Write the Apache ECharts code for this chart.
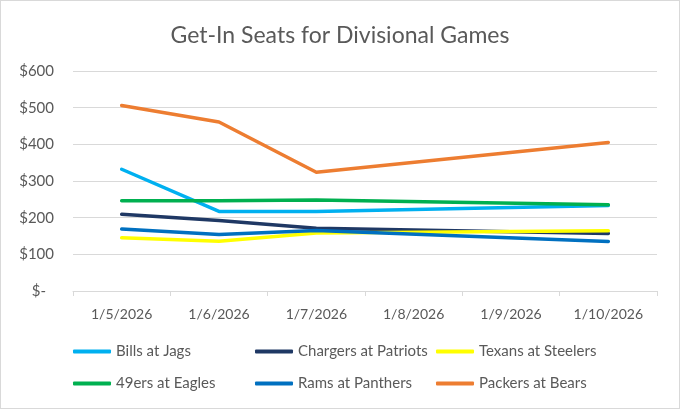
<!DOCTYPE html>
<html lang="en">
<head>
    <meta charset="UTF-8">
    <title>Get-In Seats for Divisional Games</title>
    <script type="text/javascript" src="https://cdn.jsdelivr.net/npm/echarts@6/dist/echarts.min.js"></script>
    <style>
        html, body { margin: 0; padding: 0; background: #fff; }
        #chart { width: 680px; height: 409px; box-sizing: border-box; border: 1px solid #d9d9d9; }
    </style>
</head>
<body>
    <div id="chart"></div>
    <script type="text/javascript">
        // dates on the x axis
        var dates = ['1/5/2026', '1/6/2026', '1/7/2026', '1/8/2026', '1/9/2026', '1/10/2026'];
        // get-in prices, null = no data that day (line is connected across)
        var billsJags = [332, 217, 217, null, null, 233];
        var chargersPatriots = [209, 192, 171, null, null, 157];
        var texansSteelers = [145, 136, 158, null, null, 164];
        var ninersEagles = [246, 246, 248, null, null, 235];
        var ramsPanthers = [169, 154, 165, null, null, 135];
        var packersBears = [506, 461, 324, null, null, 405];
        var yTicks = [0, 100, 200, 300, 400, 500, 600];

        var names = ['Bills at Jags', 'Chargers at Patriots', 'Texans at Steelers',
                     '49ers at Eagles', 'Rams at Panthers', 'Packers at Bears'];
        var colors = ['#00b0f0', '#1f3864', '#ffff00', '#00b050', '#0070c0', '#ed7d31'];

        var font = 'Lato, "Open Sans", sans-serif';
        var grey = '#595959';

        var myChart = echarts.init(document.getElementById('chart'));

        function line(i, data) {
            return {
                name: names[i],
                type: 'line',
                data: data,
                connectNulls: true,
                showSymbol: false,
                symbol: 'none',
                lineStyle: {width: 3.5, color: colors[i], cap: 'round', join: 'round'},
                itemStyle: {color: colors[i]}
            };
        }

        // one legend per entry so the three columns line up like the excel legend
        var legends = [];
        for (var i = 0; i < names.length; i++) {
            legends.push({
                data: [names[i]],
                left: [72, 254, 435][i % 3],
                top: i < 3 ? 343 : 375,
                padding: 0,
                itemWidth: 38,
                itemHeight: 4,
                icon: 'roundRect',
                textStyle: {color: grey, fontFamily: font, fontSize: 15}
            });
        }

        var option = {
            animation: false,
            title: {
                text: 'Get-In Seats for Divisional Games',
                left: 'center',
                top: 18,
                textStyle: {color: grey, fontFamily: font, fontSize: 23, fontWeight: 'normal'}
            },
            legend: legends,
            grid: {left: 72, right: 22, top: 70, bottom: 117, containLabel: false},
            xAxis: {
                type: 'category',
                data: dates,
                boundaryGap: true,
                axisLine: {lineStyle: {color: '#d9d9d9', width: 1}},
                axisTick: {show: true, length: 5, lineStyle: {color: '#d9d9d9'}},
                axisLabel: {color: grey, fontFamily: font, fontSize: 14, margin: 16}
            },
            yAxis: {
                type: 'value',
                min: yTicks[0],
                max: yTicks[yTicks.length - 1],
                interval: 100,
                axisLine: {show: false},
                axisTick: {show: false},
                splitLine: {lineStyle: {color: '#d9d9d9', width: 1}},
                axisLabel: {
                    color: grey,
                    fontFamily: font,
                    fontSize: 15,
                    margin: 19,
                    formatter: function (v) { return v === 0 ? '{z|$-}' : '$' + v; },
                    rich: {z: {color: grey, fontFamily: font, fontSize: 15, padding: [0, 8, 0, 0]}}
                }
            },
            series: [
                line(0, billsJags),
                line(1, chargersPatriots),
                line(2, texansSteelers),
                line(3, ninersEagles),
                line(4, ramsPanthers),
                line(5, packersBears)
            ]
        };

        myChart.setOption(option);
    </script>
</body>
</html>
